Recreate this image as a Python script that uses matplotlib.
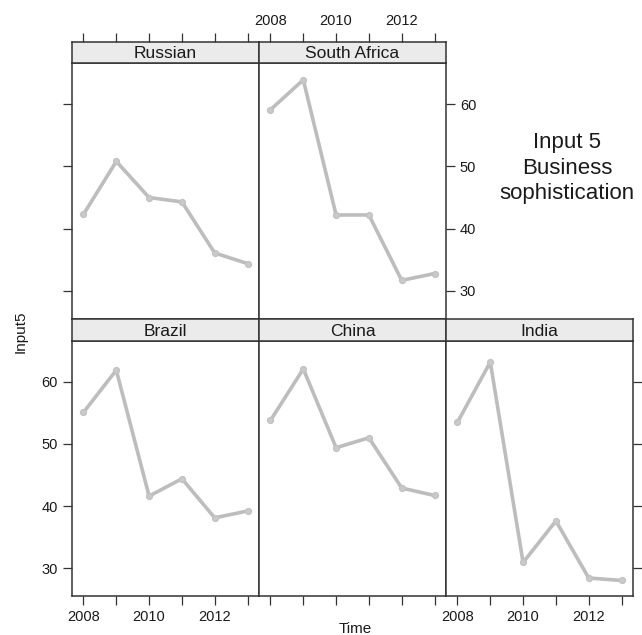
import matplotlib.pyplot as plt
import numpy as np

plt.rcParams['font.family'] = ['Liberation Sans', 'DejaVu Sans']

# data
years = [2008, 2009, 2010, 2011, 2012, 2013]
russian = [42.3, 50.8, 45.0, 44.3, 36.1, 34.4]
south_africa = [59.1, 63.9, 42.2, 42.2, 31.7, 32.8]
brazil = [55.1, 61.9, 41.6, 44.4, 38.1, 39.2]
china = [53.8, 62.1, 49.4, 51.0, 42.9, 41.7]
india = [53.5, 63.2, 30.9, 37.6, 28.4, 28.0]

y_ticks = [30, 40, 50, 60]
x_labels = [str(y) if y % 2 == 0 else '' for y in years]

W, H = 642, 635
fig = plt.figure(figsize=(W / 100, H / 100), dpi=100)

# panel grid in pixels
col_x = [72, 259, 446, 633]
rows = {0: (42, 63, 319), 1: (319, 341, 596)}  # strip top, strip bottom, panel bottom

frame_col = '#333333'
text_col = '#1a1a1a'
line_col = '#bdbdbd'


def px_axes(x0, y0, x1, y1):
    return fig.add_axes([x0 / W, 1 - y1 / H, (x1 - x0) / W, (y1 - y0) / H])


def style(ax):
    for s in ax.spines.values():
        s.set_color(frame_col)
        s.set_linewidth(1.1)
    ax.tick_params(direction='out', length=6.5, width=0.9, color=frame_col,
                   labelsize=10.5, labelcolor=text_col, pad=3.5)
    ax.tick_params(bottom=False, top=False, left=False, right=False,
                   labelbottom=False, labeltop=False, labelleft=False, labelright=False)


panels = [
    ('Russian', russian, 0, 0),
    ('South Africa', south_africa, 0, 1),
    ('Brazil', brazil, 1, 0),
    ('China', china, 1, 1),
    ('India', india, 1, 2),
]

for name, vals, r, c in panels:
    st, sb, pb = rows[r]
    x0, x1 = col_x[c], col_x[c + 1]
    ax = px_axes(x0, sb, x1, pb)
    strip = px_axes(x0, st, x1, sb)

    ax.plot(years, vals, color=line_col, lw=2.6, marker='o', ms=4.2,
            mfc='#cacaca', mec='#c2c2c2', solid_joinstyle='round')
    ax.set_xlim(2007.65, 2013.35)
    ax.set_ylim(25.5, 66.6)
    ax.set_xticks(years)
    ax.set_xticklabels(x_labels)
    ax.set_yticks(y_ticks)

    strip.set_facecolor('#ebebeb')
    strip.set_xlim(ax.get_xlim())
    strip.set_xticks(years)
    strip.set_xticklabels(x_labels)
    strip.set_yticks([])
    strip.text(0.5, 0.45, name, transform=strip.transAxes, ha='center', va='center',
               fontsize=12.5, color=text_col)

    style(ax)
    style(strip)

    # alternating lattice-style axes
    if r == 0:
        strip.tick_params(top=True, labeltop=(c == 1))
        if c == 0:
            ax.tick_params(left=True)
        else:
            ax.tick_params(right=True, labelright=True)
    else:
        ax.tick_params(bottom=True, labelbottom=(c != 1))
        if c == 0:
            ax.tick_params(left=True, labelleft=True)
        if c == 2:
            ax.tick_params(right=True)

fig.text(567 / W, 1 - 168 / H, 'Input 5\nBusiness\nsophistication', ha='center',
         va='center', fontsize=16, linespacing=1.27, color=text_col)
fig.text(21 / W, 1 - 332 / H, 'Input5', rotation=90, ha='center', va='center',
         fontsize=11, color=text_col)
fig.text(355 / W, 1 - 629 / H, 'Time', ha='center', va='center',
         fontsize=11, color=text_col)

fig.savefig('out.png', dpi=100)
